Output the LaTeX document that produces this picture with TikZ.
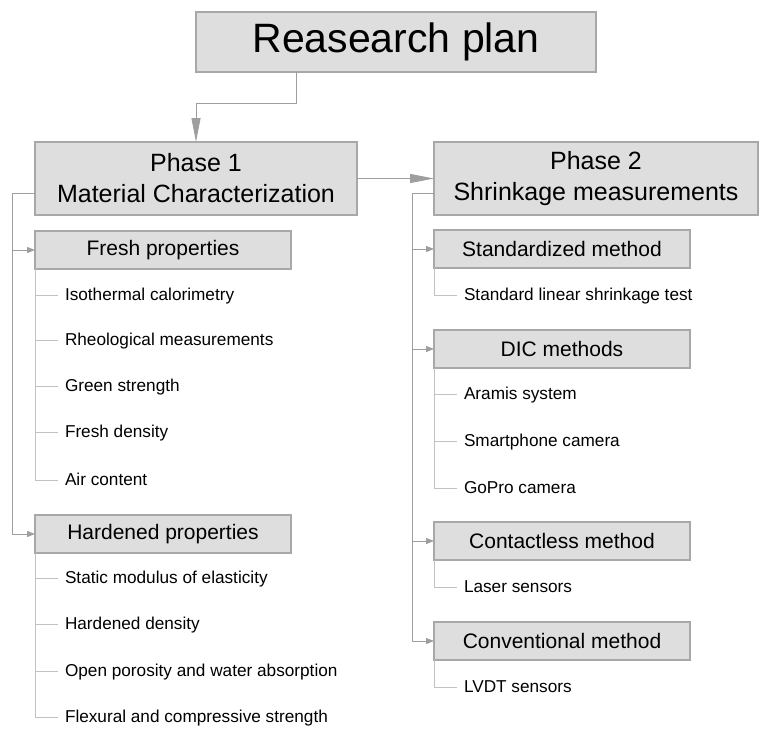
\documentclass[tikz,border=0pt]{standalone}
\usepackage{fontspec}
\setmainfont{Liberation Sans}
\usetikzlibrary{arrows.meta,calc}
\definecolor{PlanFill}{gray}{0.87}
\definecolor{PlanEdge}{gray}{0.66}
\definecolor{PlanLink}{gray}{0.62}
\definecolor{PlanLeaf}{gray}{0.76}
\tikzset{
    plan/diagram/.style={
        x=1pt, y=-1pt,
        line width=1pt,
        every node/.style={inner sep=0pt, outer sep=0pt}
    },
    plan/box/.style={
        anchor=north west, draw=PlanEdge, fill=PlanFill,
        line width=1.2pt, align=center, text=black
    },
    plan/title/.style={plan/box, minimum width=400pt, minimum height=60pt,
        font=\fontsize{41}{48}\selectfont},
    plan/phase/.style={plan/box, minimum height=73pt,
        font=\fontsize{25}{31}\selectfont},
    plan/group/.style={plan/box, minimum width=256pt, minimum height=38pt,
        font=\fontsize{21}{25}\selectfont},
    plan/item/.style={anchor=west, inner xsep=7pt, text height=13pt,
        text depth=2pt, font=\fontsize{17.2}{20}\selectfont},
    plan/main/.style={draw=PlanLink, -{Triangle[length=24pt, width=9pt]}},
    plan/branch/.style={draw=PlanLink, -{Triangle[length=8pt, width=6pt]}},
    plan/bus/.style={draw=PlanLink},
    plan/leaf/.style={draw=PlanLeaf}
}
\begin{document}
\begin{tikzpicture}[plan/diagram]
    \useasboundingbox (0,0) rectangle (774,740);

    \node[plan/title] (title) at (196,12) {Reasearch plan};
    \node[plan/phase, minimum width=322pt] (p1) at (35,142)
        {Phase 1\\Material Characterization};
    \node[plan/phase, minimum width=324pt] (p2) at (434,142)
        {Phase 2\\Shrinkage measurements};

    \draw[plan/main] ($(title.south west)!0.25!(title.south east)$)
        -- ++(0,31) -| (p1.north);
    \draw[plan/main] (p1.east) -- (p2.west);

    % phase 1
    \node[plan/group] (fresh) at (35,231) {Fresh properties};
    \node[plan/group] (hard) at (35,515) {Hardened properties};
    \coordinate (p1tap) at ([yshift=22pt]p1.south west);
    \coordinate (p1bus) at (12,193);
    \draw[plan/bus] (p1tap) -- (p1bus);
    \draw[plan/branch] (p1bus) |- (fresh.west);
    \draw[plan/branch] (p1bus) |- (hard.west);
    \foreach \y/\txt/\nm in {295/Isothermal calorimetry/f1,
            340/Rheological measurements/f2, 386/Green strength/f3,
            432/Fresh density/f4, 480/Air content/f5} {
        \node[plan/item] (\nm) at (58,\y) {\txt};
        \draw[plan/leaf] (fresh.south west) |- (\nm.west);
    }
    \foreach \y/\txt/\nm in {578/Static modulus of elasticity/h1,
            624/Hardened density/h2,
            671/Open porosity and water absorption/h3,
            717/Flexural and compressive strength/h4} {
        \node[plan/item] (\nm) at (58,\y) {\txt};
        \draw[plan/leaf] (hard.south west) |- (\nm.west);
    }

    % phase 2
    \node[plan/group] (std) at (434,230) {Standardized method};
    \node[plan/group] (dic) at (434,330) {DIC methods};
    \node[plan/group] (contact) at (434,522) {Contactless method};
    \node[plan/group] (conv) at (434,622) {Conventional method};
    \coordinate (p2tap) at ([yshift=22pt]p2.south west);
    \coordinate (p2bus) at (412,193);
    \draw[plan/bus] (p2tap) -- (p2bus);
    \foreach \grp in {std,dic,contact,conv}
        \draw[plan/branch] (p2bus) |- (\grp.west);
    \foreach \grp/\y/\txt/\nm in {std/295/Standard linear shrinkage test/s1,
            dic/394/Aramis system/d1, dic/441/Smartphone camera/d2,
            dic/488/GoPro camera/d3, contact/587/Laser sensors/c1,
            conv/687/LVDT sensors/v1} {
        \node[plan/item] (\nm) at (457,\y) {\txt};
        \draw[plan/leaf] (\grp.south west) |- (\nm.west);
    }
\end{tikzpicture}
\end{document}
